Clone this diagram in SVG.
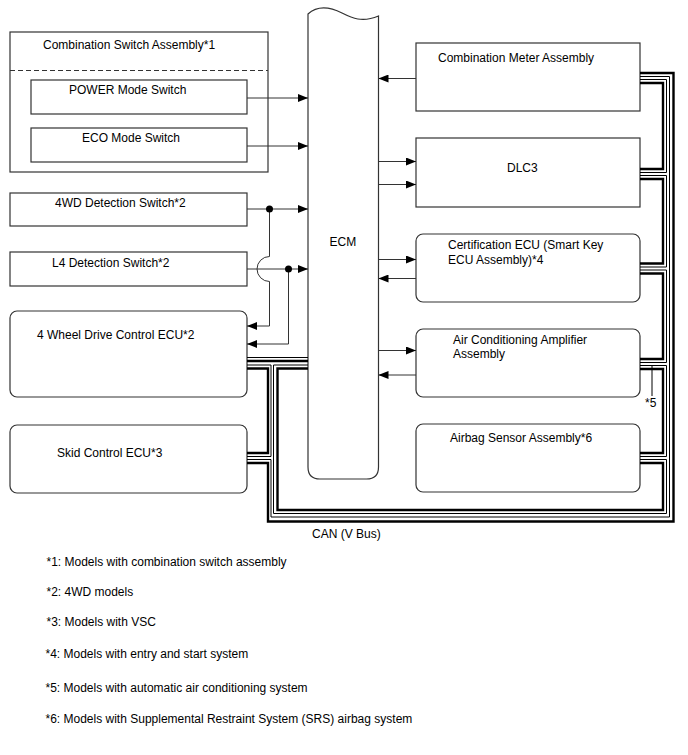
<svg xmlns="http://www.w3.org/2000/svg" width="688" height="755" viewBox="0 0 688 755">
<style>
.box{fill:#fff;stroke:#333;stroke-width:1.2}
.t{font-family:"Liberation Sans",Arial,sans-serif;font-size:12px;fill:#000}
.w{fill:none;stroke:#333;stroke-width:1}
.ck{fill:none;stroke:#000;stroke-width:2.4;stroke-linejoin:miter;stroke-linecap:butt}
.cn{fill:none;stroke:#000;stroke-width:1;stroke-linejoin:miter;stroke-linecap:butt}
</style>
<defs>
<marker id="ah" markerWidth="10" markerHeight="8" refX="10" refY="4" orient="auto" markerUnits="userSpaceOnUse">
<path d="M0,0 L10,4 L0,8 Z" fill="#000"/>
</marker>
</defs>
<rect width="688" height="755" fill="#fff"/>

<g id="combination-switch">
<rect class="box" x="10" y="32" width="258" height="140"/>
<line x1="10" y1="70.5" x2="268" y2="70.5" stroke="#333" stroke-width="1.2" stroke-dasharray="5,3"/>
<text class="t" x="43" y="49">Combination Switch Assembly*1</text>
</g>
<g id="power-mode-switch">
<rect class="box" x="31" y="80" width="216" height="34"/>
<text class="t" x="69" y="93.5">POWER Mode Switch</text>
</g>
<g id="eco-mode-switch">
<rect class="box" x="31" y="128" width="216" height="34"/>
<text class="t" x="82" y="141.5">ECO Mode Switch</text>
</g>
<g id="4wd-detection-switch">
<rect class="box" x="10" y="193" width="237" height="33"/>
<text class="t" x="55" y="206.5">4WD Detection Switch*2</text>
</g>
<g id="l4-detection-switch">
<rect class="box" x="10" y="252" width="237" height="34"/>
<text class="t" x="52" y="266.5">L4 Detection Switch*2</text>
</g>
<g id="4wd-control-ecu">
<rect class="box" x="10" y="311" width="237" height="86" rx="7"/>
<text class="t" x="37" y="338.5">4 Wheel Drive Control ECU*2</text>
</g>
<g id="skid-control-ecu">
<rect class="box" x="10" y="425" width="237" height="68" rx="7"/>
<text class="t" x="57" y="456.5">Skid Control ECU*3</text>
</g>
<g id="ecm">
<path class="box" d="M308,14 C318,5 330,7 342,13 C352,18 362,23 378.5,16 L378.5,467 Q378.5,479 366.5,479 L320,479 Q308,479 308,467 Z"/>
<text class="t" x="329.5" y="246">ECM</text>
</g>
<g id="combination-meter">
<rect class="box" x="416" y="43" width="224" height="68"/>
<text class="t" x="438" y="62">Combination Meter Assembly</text>
</g>
<g id="dlc3">
<rect class="box" x="416" y="138" width="224" height="69"/>
<text class="t" x="507" y="172">DLC3</text>
</g>
<g id="certification-ecu">
<rect class="box" x="416" y="234" width="224" height="68" rx="7"/>
<text class="t" x="448" y="249">Certification ECU (Smart Key</text>
<text class="t" x="448" y="263.5">ECU Assembly)*4</text>
</g>
<g id="ac-amplifier">
<rect class="box" x="416" y="329" width="224" height="68" rx="7"/>
<text class="t" x="453" y="343.5">Air Conditioning Amplifier</text>
<text class="t" x="453" y="358">Assembly</text>
</g>
<g id="airbag-sensor">
<rect class="box" x="416" y="424" width="224" height="68" rx="7"/>
<text class="t" x="450" y="441.5">Airbag Sensor Assembly*6</text>
</g>

<g id="connectors">
<!-- signal wires -->
<line class="w" x1="247" y1="98" x2="308" y2="98" marker-end="url(#ah)"/>
<line class="w" x1="247" y1="146" x2="308" y2="146" marker-end="url(#ah)"/>
<line class="w" x1="247" y1="209" x2="308" y2="209" marker-end="url(#ah)"/>
<line class="w" x1="247" y1="269" x2="308" y2="269" marker-end="url(#ah)"/>
<path class="w" d="M269.5,209 V256.5 A12.5,12.5 0 0 0 269.5,281.5 V326 H247" marker-end="url(#ah)"/>
<path class="w" d="M288.5,269 V344 H247" marker-end="url(#ah)"/>
<circle cx="269.5" cy="209" r="3.5" fill="#000"/>
<circle cx="288.5" cy="269" r="3.5" fill="#000"/>

<line class="w" x1="416" y1="78.5" x2="378.5" y2="78.5" marker-end="url(#ah)"/>
<line class="w" x1="378.5" y1="161.5" x2="416" y2="161.5" marker-end="url(#ah)"/>
<line class="w" x1="378.5" y1="184.5" x2="416" y2="184.5" marker-end="url(#ah)"/>
<line class="w" x1="378.5" y1="259.5" x2="416" y2="259.5" marker-end="url(#ah)"/>
<line class="w" x1="416" y1="278.5" x2="378.5" y2="278.5" marker-end="url(#ah)"/>
<line class="w" x1="378.5" y1="350.5" x2="416" y2="350.5" marker-end="url(#ah)"/>
<line class="w" x1="416" y1="375" x2="378.5" y2="375" marker-end="url(#ah)"/>

<!-- CAN bus -->
<path class="ck" d="M640,73 H673.5 V521.5 H268 V463 H247"/>
<path class="cn" d="M640,76.5 H669.5 V517 H271 V459.5 H247"/>
<path class="ck" d="M247,453 H268 V368.5 H247"/>
<path class="cn" d="M247,456.5 H271 V365 H247"/>
<path class="cn" d="M247,357.5 H308"/>
<path class="ck" d="M247,361 H308"/>
<path class="cn" d="M308,365 H273.5 V513.5 H666.5 V459.5 H640"/>
<path class="ck" d="M308,368.5 H277.5 V510 H663 V463 H640"/>
<path class="cn" d="M640,365.5 H666.5 V456.5 H640"/>
<path class="ck" d="M640,369 H663 V453 H640"/>
<path class="cn" d="M640,270 H666.5 V362.5 H640"/>
<path class="ck" d="M640,273.5 H663 V359 H640"/>
<path class="cn" d="M640,175.5 H666.5 V267 H640"/>
<path class="ck" d="M640,179 H663 V263.5 H640"/>
<path class="cn" d="M640,79.5 H666.5 V172.5 H640"/>
<path class="ck" d="M640,83 H663 V169 H640"/>
<line class="cn" x1="652" y1="366" x2="652" y2="396"/>
</g>

<text class="t" x="645" y="407">*5</text>
<text class="t" x="312" y="538">CAN (V Bus)</text>

<g id="notes">
<text class="t" x="46.5" y="566">*1: Models with combination switch assembly</text>
<text class="t" x="46.5" y="596">*2: 4WD models</text>
<text class="t" x="46.5" y="626">*3: Models with VSC</text>
<text class="t" x="45.5" y="658">*4: Models with entry and start system</text>
<text class="t" x="45.5" y="692">*5: Models with automatic air conditioning system</text>
<text class="t" x="45.5" y="722.5">*6: Models with Supplemental Restraint System (SRS) airbag system</text>
</g>
</svg>
